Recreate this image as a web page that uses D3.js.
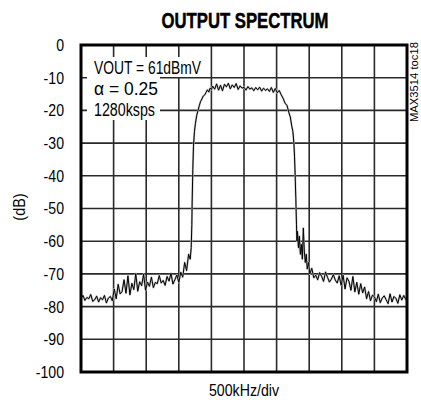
<!DOCTYPE html>
<html><head><meta charset="utf-8">
<script src="https://cdn.jsdelivr.net/npm/d3@7"></script>
<style>
html,body{margin:0;padding:0;background:#fff;}
svg{display:block;}
text{font-family:"Liberation Sans",Arial,sans-serif;fill:#000;}
</style></head>
<body>
<svg id="chart" width="421" height="400"></svg>
<script>
// ---- data ----
const title = "OUTPUT SPECTRUM";
const yLabel = "(dB)";
const xLabel = "500kHz/div";
const sideNote = "MAX3514 toc18";
const notes = ["VOUT = 61dBmV", "\u03b1 = 0.25", "1280ksps"];
const yTicks = [0, -10, -20, -30, -40, -50, -60, -70, -80, -90, -100];
const xGrid = [-2000, -1500, -1000, -500, 0, 500, 1000, 1500, 2000];
const xDomain = [-2500, 2500];
const yDomain = [-100, 0];

const freqKHz = [
 -2500,-2470,-2440,-2410,-2380,-2350,-2320,-2290,-2260,-2230,-2200,-2170,-2140,-2110,-2080,-2050,-2020,
 -1990,-1960,-1930,-1900,-1870,-1840,-1810,-1780,-1750,-1720,-1690,-1660,-1630,-1600,-1570,-1540,-1510,
 -1480,-1450,-1420,-1390,-1360,-1330,-1300,-1270,-1240,-1210,-1180,-1150,-1120,-1090,-1060,-1030,-1000,
 -970,-940,-910,-880,-850,-825,-810,-800,-795,-785,-775,-760,-745,-725,-705,-685,-665,-645,-625,-600,-580,-560,-540,-520,-500,-480,
 -450,-420,-390,-360,-330,-300,-270,-240,-210,-180,-150,-120,-90,-60,-30,0,30,60,90,120,150,180,210,240,270,300,330,360,390,420,450,480,510,540,
 570,600,630,660,690,710,730,750,765,775,785,795,805,812,820,835,850,865,880,895,910,925,940,955,970,990,1010,
 1040,1070,1100,1130,1160,1190,1220,1250,1280,1310,1340,1370,1400,1430,1460,
 1490,1520,1550,1580,1610,1640,1670,1700,1730,1760,1790,1820,
 1850,1880,1910,1940,1970,2000,2030,2060,2090,2120,2150,2180,2210,2240,2270,2300,2330,2360,2390,2420,2450,2480,2500
];
const levelDB = [
 -77.5,-76.6,-78.1,-77.2,-77.6,-76.3,-78.4,-77.9,-76.8,-78.6,-77.3,-77.9,-76.6,-78.9,-77.4,-76.9,-78.2,
 -74.6,-77.6,-73.2,-76.1,-75.4,-71.8,-75.9,-70.6,-76.4,-72.9,-74.8,-69.9,-75.3,-72.4,-73.6,-70.1,-75.0,
 -72.5,-73.8,-71.0,-74.2,-72.6,-73.0,-70.5,-72.8,-72.0,-73.5,-70.8,-72.2,-69.8,-73.1,-71.8,-70.3,-72.6,
 -69.5,-71.0,-66.5,-69.0,-64.0,-65.5,-62.0,-55.0,-48.0,-38.0,-31.0,-26.5,-24.0,-21.5,-20.0,-18.5,-17.2,-16.5,-15.6,-15.2,-14.4,-13.7,-14.4,-13.2,-13.6,-12.6,
 -13.5,-11.9,-13.8,-12.3,-14.0,-12.0,-12.8,-11.7,-13.4,-12.2,-13.0,-11.8,-13.6,-12.5,-13.2,-12.9,-13.8,-12.7,-13.5,-13.1,-14.0,-13.0,-13.7,-12.9,-14.1,-13.2,-13.9,-13.4,-14.2,-13.0,-14.5,-13.3,-14.6,-13.9,
 -15.2,-16.3,-17.8,-18.5,-20.8,-22.0,-24.5,-26.5,-30.0,-34.0,-40.0,-47.0,-55.0,-60.0,-57.0,-62.0,-58.5,-64.0,-61.0,-65.5,-56.0,-63.0,-66.5,-64.0,-68.5,-66.5,-70.0,
 -68.3,-71.2,-70.4,-71.8,-69.6,-70.7,-72.3,-69.4,-71.0,-72.5,-71.6,-70.2,-71.9,-72.8,-70.6,
 -73.5,-70.4,-74.6,-71.2,-72.3,-75.0,-70.8,-75.5,-72.6,-76.2,-73.0,-75.8,
 -74.0,-77.6,-75.4,-78.2,-76.5,-77.0,-78.5,-76.2,-78.8,-77.4,-76.7,-77.9,-79.1,-76.1,-78.6,-76.9,-77.5,-79.0,-76.4,-78.0,-76.6,-77.8,-77.4
];

// ---- drawing ----
const svg = d3.select("#chart");
const plot = {left: 81, right: 407, top: 45, bottom: 372};
const x = d3.scaleLinear().domain(xDomain).range([plot.left, plot.right]);
const y = d3.scaleLinear().domain(yDomain).range([plot.bottom, plot.top]);

function condense(sel, k) {
  sel.each(function () {
    const w = this.getComputedTextLength();
    d3.select(this).attr("textLength", w * k).attr("lengthAdjust", "spacingAndGlyphs");
  });
}

// grid
const grid = svg.append("g").attr("stroke", "#2a2a2a").attr("stroke-width", 1.6);
grid.selectAll("line.v").data(xGrid).join("line").attr("class", "v")
  .attr("x1", d => x(d)).attr("x2", d => x(d)).attr("y1", plot.top).attr("y2", plot.bottom);
grid.selectAll("line.h").data(yTicks.filter(d => d !== 0 && d !== -100)).join("line").attr("class", "h")
  .attr("x1", plot.left).attr("x2", plot.right).attr("y1", d => y(d)).attr("y2", d => y(d));

// trace
const pts = freqKHz.map((f, i) => [f, levelDB[i]]);
const line = d3.line().x(d => x(d[0])).y(d => y(d[1]));
svg.append("path").datum(pts).attr("d", line)
  .attr("fill", "none").attr("stroke", "#bbb").attr("stroke-width", 2).attr("stroke-linejoin", "round");
svg.append("path").datum(pts).attr("d", line)
  .attr("fill", "none").attr("stroke", "#000").attr("stroke-width", 1).attr("stroke-linejoin", "round");

// annotation boxes
svg.append("rect").attr("x", 87).attr("y", 57).attr("width", 118).attr("height", 20).attr("fill", "#fff");
svg.append("rect").attr("x", 87).attr("y", 57).attr("width", 73).attr("height", 63).attr("fill", "#fff");
const noteY = [74, 95, 116];
const noteW = [107, 64, 61];
svg.selectAll("text.note").data(notes).join("text").attr("class", "note")
  .attr("x", 94).attr("y", (d, i) => noteY[i])
  .attr("font-size", 18).attr("textLength", (d, i) => noteW[i]).attr("lengthAdjust", "spacingAndGlyphs")
  .text(d => d);

// frame
svg.append("rect").attr("x", plot.left).attr("y", plot.top)
  .attr("width", plot.right - plot.left).attr("height", plot.bottom - plot.top)
  .attr("fill", "none").attr("stroke", "#000").attr("stroke-width", 3);

// y axis labels
const yAxis = d3.axisLeft(y).tickValues(yTicks).tickSize(0).tickPadding(17).tickFormat(d => String(d));
const ga = svg.append("g").attr("transform", `translate(${plot.left},0)`).call(yAxis);
ga.select(".domain").remove();
ga.selectAll("text").attr("font-size", 17)
  .attr("font-family", '"Liberation Sans",Arial,sans-serif').attr("fill", "#000")
  .call(condense, 0.83);

// title
svg.append("text").attr("x", 245).attr("y", 28).attr("text-anchor", "middle")
  .attr("font-size", 22).attr("font-weight", "bold").attr("stroke", "#000").attr("stroke-width", 0.5)
  .attr("textLength", 167).attr("lengthAdjust", "spacingAndGlyphs").text(title);

// x label
svg.append("text").attr("x", 244).attr("y", 396).attr("text-anchor", "middle")
  .attr("font-size", 16).attr("textLength", 70).attr("lengthAdjust", "spacingAndGlyphs").text(xLabel);

// y label
svg.append("text").attr("transform", "translate(25,207) rotate(-90)").attr("text-anchor", "middle")
  .attr("font-size", 17).text(yLabel).call(condense, 0.85);

// side note
svg.append("text").attr("transform", "translate(418,82) rotate(-90)").attr("text-anchor", "middle")
  .attr("font-size", 11).attr("textLength", 80).attr("lengthAdjust", "spacingAndGlyphs").text(sideNote);
</script>
</body></html>
